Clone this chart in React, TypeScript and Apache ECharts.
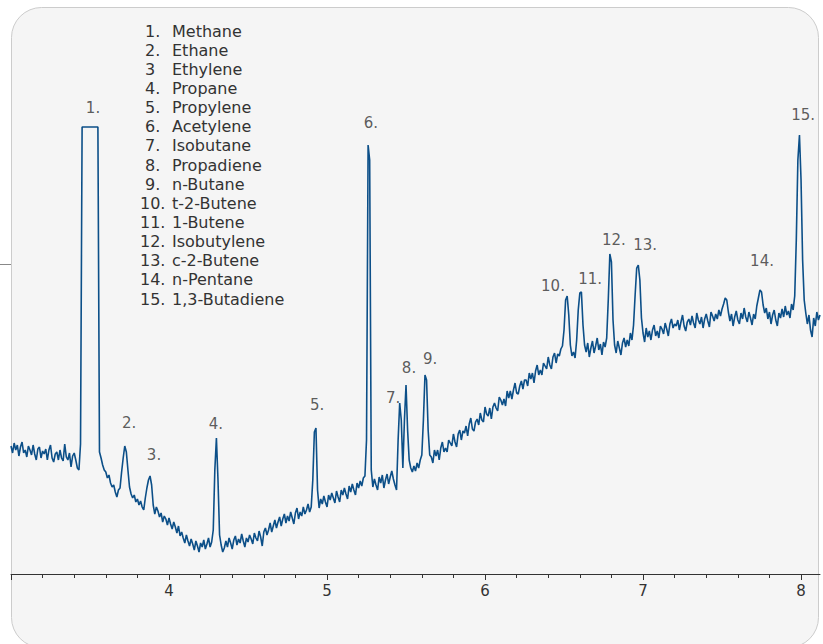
import React, { useEffect, useRef } from "react";
import * as echarts from "echarts";

// Acquisition time grid (minutes)
const START_MIN = 3.0;
const STEP_MIN = 0.01;

// Detector signal (arbitrary units), one sample every STEP_MIN from START_MIN
const SIGNAL = [
  128, 121, 131, 124, 129, 118, 127, 132, 121, 124,
  117, 128, 124, 119, 129, 120, 114, 125, 127, 116,
  123, 120, 125, 114, 124, 129, 116, 112, 120, 122,
  114, 124, 116, 113, 130, 117, 114, 121, 107, 118,
  121, 114, 106, 104, 130, 447, 447, 447, 447, 447,
  447, 447, 447, 447, 447, 447, 122, 116, 109, 104,
  102, 96, 99, 91, 87, 89, 82, 77, 84, 86,
  102, 116, 128, 122, 104, 87, 80, 76, 79, 72,
  75, 69, 73, 67, 64, 76, 86, 94, 98, 89,
  69, 60, 67, 63, 57, 61, 52, 58, 55, 49,
  56, 50, 45, 52, 47, 41, 48, 38, 42, 36,
  31, 39, 33, 28, 35, 30, 24, 33, 28, 22,
  31, 27, 34, 25, 30, 36, 27, 32, 44, 104,
  136, 94, 39, 29, 22, 26, 33, 27, 36, 31,
  25, 34, 38, 29, 35, 31, 40, 33, 27, 36,
  32, 39, 35, 30, 41, 36, 33, 43, 37, 28,
  42, 46, 39, 44, 51, 42, 48, 54, 46, 52,
  57, 48, 55, 60, 51, 58, 53, 62, 56, 50,
  61, 66, 55, 62, 58, 67, 60, 64, 70, 62,
  67, 94, 142, 146, 84, 66, 75, 70, 78, 72,
  67, 79, 74, 81, 76, 71, 83, 77, 72, 84,
  79, 86, 80, 75, 88, 82, 90, 84, 79, 91,
  86, 93, 88, 96, 98, 134, 429, 414, 104, 87,
  95, 89, 84, 97, 91, 99, 86, 94, 100, 90,
  97, 103, 95, 89, 84, 134, 171, 154, 106, 154,
  189, 144, 114, 106, 102, 108, 103, 111, 106, 114,
  119, 154, 199, 194, 144, 119, 117, 111, 124, 118,
  124, 114, 126, 132, 122, 126, 122, 134, 131, 128,
  140, 132, 127, 140, 144, 134, 143, 141, 148, 138,
  150, 156, 145, 143, 152, 155, 149, 161, 154, 152,
  167, 160, 158, 166, 155, 167, 171, 166, 163, 177,
  174, 169, 175, 168, 183, 176, 183, 175, 184, 191,
  181, 180, 188, 193, 185, 194, 194, 188, 201, 195,
  201, 191, 203, 209, 199, 204, 199, 211, 208, 205,
  217, 209, 205, 217, 221, 211, 220, 218, 225, 228,
  244, 274, 278, 259, 229, 218, 222, 216, 234, 264,
  281, 282, 249, 229, 222, 231, 217, 226, 233, 221,
  228, 236, 224, 230, 219, 232, 227, 236, 274, 320,
  312, 254, 229, 221, 233, 226, 219, 231, 236, 227,
  234, 228, 241, 234, 249, 279, 306, 309, 294, 256,
  241, 232, 246, 237, 243, 234, 244, 249, 238, 243,
  236, 248, 245, 240, 251, 245, 238, 250, 255, 246,
  250, 248, 254, 244, 252, 259, 248, 243, 252, 255,
  249, 258, 251, 246, 261, 254, 250, 257, 246, 255,
  260, 253, 247, 262, 258, 253, 260, 255, 264, 258,
  265, 270, 276, 274, 262, 253, 260, 248, 257, 263,
  254, 250, 261, 255, 266, 257, 252, 262, 256, 249,
  260, 255, 268, 276, 284, 282, 269, 261, 266, 255,
  262, 250, 259, 264, 254, 248, 261, 256, 265, 257,
  268, 259, 263, 256, 270, 264, 278, 334, 414, 439,
  394, 314, 274, 261, 250, 259, 244, 237, 256, 248,
  262, 254, 259,
];

// Peak annotations
const PEAK_LABELS = ["1.", "2.", "3.", "4.", "5.", "6.", "7.", "8.", "9.", "10.", "11.", "12.", "13.", "14.", "15."];
const PEAK_LABEL_T = [3.519, 3.747, 3.905, 4.297, 4.937, 5.278, 5.418, 5.519, 5.652, 6.43, 6.665, 6.816, 7.013, 7.753, 8.013];
const PEAK_LABEL_V = [466, 151, 119, 150, 169, 451, 176, 206, 215, 288, 295, 334, 329, 313, 459];

// Compound list
const COMPOUND_NUMBERS = ["1.", "2.", "3", "4.", "5.", "6.", "7.", "8.", "9.", "10.", "11.", "12.", "13.", "14.", "15."];
const COMPOUND_NAMES = [
  "Methane", "Ethane", "Ethylene", "Propane", "Propylene", "Acetylene", "Isobutane",
  "Propadiene", "n-Butane", "t-2-Butene", "1-Butene", "Isobutylene", "c-2-Butene",
  "n-Pentane", "1,3-Butadiene",
];

// Axis ticks
const X_MIN = 3;
const X_MAX = 8.12;
const MAJOR_TICKS = [3, 4, 5, 6, 7, 8];
const TICK_LABELS = [4, 5, 6, 7, 8];
const MINOR_TICKS = [
  3.2, 3.4, 3.6, 3.8, 4.2, 4.4, 4.6, 4.8, 5.2, 5.4, 5.6, 5.8,
  6.2, 6.4, 6.6, 6.8, 7.2, 7.4, 7.6, 7.8,
];

const FONT = "DejaVu Sans";
const TEXT_COLOR = "#333333";
const LINE_COLOR = "#0c4f88";

export default function App() {
  const ref = useRef<HTMLDivElement>(null);

  useEffect(() => {
    if (!ref.current) return;
    const chart = echarts.init(ref.current, null, { renderer: "svg" });

    const trace = SIGNAL.map((v, i) => [START_MIN + i * STEP_MIN, v]);
    const labelPts = PEAK_LABELS.map((name, i) => ({
      name,
      value: [PEAK_LABEL_T[i], PEAK_LABEL_V[i]],
    }));

    const legendTexts: any[] = [];
    COMPOUND_NUMBERS.forEach((num, k) => {
      const y = 31 + k * 19.15;
      legendTexts.push({
        type: "text",
        z: 10,
        x: num.length > 2 ? 140 : 145,
        y,
        style: {
          text: num,
          fill: TEXT_COLOR,
          fontFamily: FONT,
          fontSize: 16,
          textAlign: "left",
          textVerticalAlign: "middle",
        },
      });
      legendTexts.push({
        type: "text",
        z: 10,
        x: 172,
        y,
        style: {
          text: COMPOUND_NAMES[k],
          fill: TEXT_COLOR,
          fontFamily: FONT,
          fontSize: 16,
          textAlign: "left",
          textVerticalAlign: "middle",
        },
      });
    });

    const option: any = {
      animation: false,
      backgroundColor: "#ffffff",
      graphic: [
        {
          type: "rect",
          z: -10,
          shape: { x: 11.5, y: 7.5, width: 807, height: 640, r: 30 },
          style: { fill: "#f5f5f5", stroke: "#cccccc", lineWidth: 1 },
        },
        {
          type: "line",
          z: -10,
          shape: { x1: 0, y1: 264.5, x2: 11, y2: 264.5 },
          style: { stroke: "#888888", lineWidth: 1 },
        },
        ...legendTexts,
      ],
      grid: { left: 11, right: 3, top: 26, bottom: 70, containLabel: false },
      xAxis: [
        {
          type: "value",
          min: X_MIN,
          max: X_MAX,
          position: "bottom",
          axisLine: { show: true, lineStyle: { color: "#333333", width: 1 } },
          axisTick: { show: true, customValues: MAJOR_TICKS, length: 6, lineStyle: { color: "#333333" } },
          axisLabel: {
            show: true,
            customValues: TICK_LABELS,
            color: TEXT_COLOR,
            fontFamily: FONT,
            fontSize: 15,
            margin: 9,
          },
          splitLine: { show: false },
        },
        {
          type: "value",
          min: X_MIN,
          max: X_MAX,
          position: "bottom",
          axisLine: { show: false },
          axisTick: { show: true, customValues: MINOR_TICKS, length: 4, lineStyle: { color: "#333333" } },
          axisLabel: { show: false },
          splitLine: { show: false },
        },
      ],
      yAxis: {
        type: "value",
        min: 0,
        max: 548,
        show: false,
        splitLine: { show: false },
      },
      series: [
        {
          type: "line",
          xAxisIndex: 0,
          data: trace,
          showSymbol: false,
          symbol: "none",
          lineStyle: { color: LINE_COLOR, width: 1.6 },
          z: 3,
        },
        {
          type: "scatter",
          xAxisIndex: 0,
          data: labelPts,
          symbolSize: 1,
          itemStyle: { color: "rgba(0,0,0,0)" },
          label: {
            show: true,
            position: "inside",
            formatter: (p: any) => p.name,
            color: TEXT_COLOR,
            fontFamily: FONT,
            fontSize: 15,
          },
          z: 4,
        },
      ],
    };

    chart.setOption(option);
    return () => chart.dispose();
  }, []);

  return (
    <div
      ref={ref}
      style={{ position: "fixed", left: 0, top: 0, width: 823, height: 644, background: "#ffffff" }}
    />
  );
}
